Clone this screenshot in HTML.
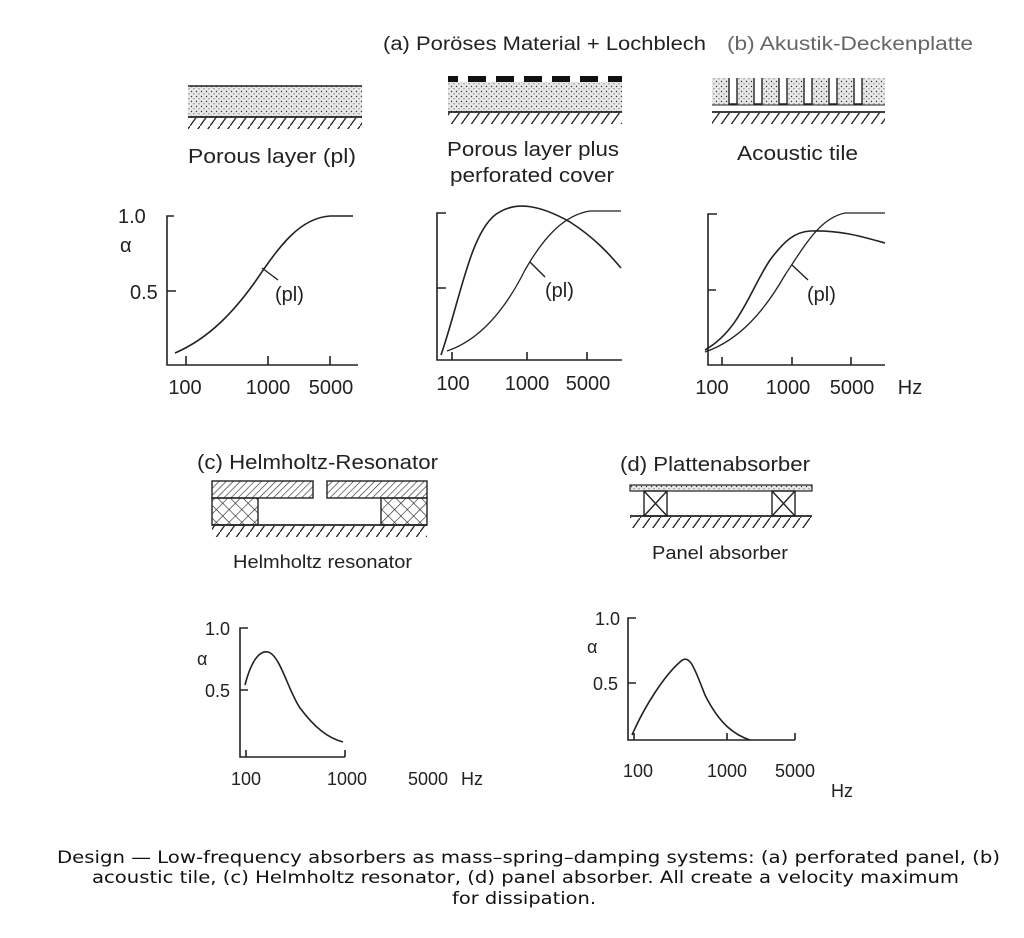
<!DOCTYPE html>
<html><head><meta charset="utf-8"><style>
html,body{margin:0;padding:0;background:#fff;}
svg{display:block}
.t{font-family:"Liberation Sans",sans-serif;fill:#222}
.c{font-family:"DejaVu Sans",sans-serif;fill:#111;font-size:17px}
</style></head><body>
<svg width="1024" height="938" viewBox="0 0 1024 938" xmlns="http://www.w3.org/2000/svg">
<defs>
<pattern id="dots" width="5" height="5" patternUnits="userSpaceOnUse"><rect width="5" height="5" fill="#e8e8e8"/><circle cx="1.5" cy="1.5" r="0.7" fill="#333"/><circle cx="4" cy="3.8" r="0.6" fill="#555"/></pattern>
<pattern id="hatch" width="10" height="14" patternUnits="userSpaceOnUse"><line x1="10" y1="0" x2="0" y2="14" stroke="#222" stroke-width="1.3"/></pattern>
<pattern id="diag" width="5" height="5" patternUnits="userSpaceOnUse" patternTransform="rotate(45)"><line x1="0" y1="0" x2="0" y2="5" stroke="#222" stroke-width="1.2"/></pattern>
<pattern id="cross" width="9" height="9" patternUnits="userSpaceOnUse" patternTransform="rotate(45)"><path d="M0 0H9M0 0V9" stroke="#222" stroke-width="1.2" fill="none"/></pattern>
</defs>
<text class="t" x="383" y="50" font-size="19" textLength="323" lengthAdjust="spacingAndGlyphs">(a) Poröses Material + Lochblech</text>
<text class="t" x="727" y="50" font-size="19" style="fill:#666" textLength="246" lengthAdjust="spacingAndGlyphs">(b) Akustik-Deckenplatte</text>

<!-- diagram 1 -->
<rect x="188" y="86" width="174" height="31" fill="url(#dots)"/>
<line x1="188" y1="86" x2="362" y2="86" stroke="#222" stroke-width="1.5"/>
<line x1="188" y1="117" x2="362" y2="117" stroke="#222" stroke-width="1.8"/>
<rect x="188" y="118" width="174" height="11" fill="url(#hatch)"/>
<text class="t" x="188" y="163" font-size="20" textLength="168" lengthAdjust="spacingAndGlyphs">Porous layer (pl)</text>

<!-- diagram 2 -->
<rect x="448" y="82" width="174" height="30" fill="url(#dots)"/>
<g fill="#111"><rect x="448" y="76" width="10" height="6"/><rect x="468" y="76" width="18" height="6"/><rect x="496" y="76" width="18" height="6"/><rect x="524" y="76" width="18" height="6"/><rect x="552" y="76" width="18" height="6"/><rect x="580" y="76" width="18" height="6"/><rect x="608" y="76" width="14" height="6"/></g>
<line x1="448" y1="112" x2="622" y2="112" stroke="#222" stroke-width="1.8"/>
<rect x="448" y="113" width="174" height="11" fill="url(#hatch)"/>
<text class="t" x="447" y="156" font-size="20" textLength="172" lengthAdjust="spacingAndGlyphs">Porous layer plus</text>
<text class="t" x="450" y="182" font-size="20" textLength="164" lengthAdjust="spacingAndGlyphs">perforated cover</text>

<!-- diagram 3 -->
<rect x="712" y="78" width="173" height="27" fill="url(#dots)"/>
<g fill="#fff" stroke="#222" stroke-width="1.4"><path d="M729 78V104H737V78"/><path d="M754 78V104H762V78"/><path d="M779 78V104H787V78"/><path d="M804 78V104H812V78"/><path d="M829 78V104H837V78"/><path d="M854 78V104H862V78"/></g>
<line x1="712" y1="105" x2="885" y2="105" stroke="#222" stroke-width="1"/>
<line x1="712" y1="112" x2="885" y2="112" stroke="#222" stroke-width="1.8"/>
<rect x="712" y="113" width="173" height="11" fill="url(#hatch)"/>
<text class="t" x="737" y="160" font-size="20" textLength="121" lengthAdjust="spacingAndGlyphs">Acoustic tile</text>

<!-- graph 1 -->
<g stroke="#222" fill="none" stroke-width="1.6">
<path d="M174 216H167V365H358"/>
<path d="M167 291H176M186 365V356M268 365V356M330 365V356"/>
<path d="M175 353C210 338 235 310 255 282C280 245 300 218 330 216H353"/>
<path d="M262 268L278 280" stroke-width="1.4"/>
</g>
<text class="t" x="118" y="223" font-size="20">1.0</text>
<text class="t" x="120" y="252" font-size="20">α</text>
<text class="t" x="130" y="299" font-size="20">0.5</text>
<text class="t" x="275" y="301" font-size="20">(pl)</text>
<g class="t" font-size="20" text-anchor="middle"><text x="185" y="394">100</text><text x="268" y="394">1000</text><text x="331" y="394">5000</text></g>

<!-- graph 2 -->
<g stroke="#222" fill="none" stroke-width="1.6">
<path d="M446 213H437V360H622"/>
<path d="M437 288H446M452 360V352M527 360V352M587 360V352"/>
<path d="M441 355C460 300 470 235 495 215C515 200 540 205 570 222C595 238 610 255 621 268"/>
<path d="M447 351C480 340 505 310 525 270C545 235 565 215 590 211H621" stroke-width="1.3"/>
<path d="M530 262L545 277" stroke-width="1.4"/>
</g>
<text class="t" x="545" y="297" font-size="20">(pl)</text>
<g class="t" font-size="20" text-anchor="middle"><text x="453" y="390">100</text><text x="527" y="390">1000</text><text x="588" y="390">5000</text></g>

<!-- graph 3 -->
<g stroke="#222" fill="none" stroke-width="1.6">
<path d="M717 214H708V365H885"/>
<path d="M708 290H716M722 365V357M792 365V357M851 365V357"/>
<path d="M705 350C740 330 750 290 770 260C785 240 795 232 810 231C840 230 860 236 885 243"/>
<path d="M705 352C740 340 765 310 785 275C805 245 820 218 845 213H885" stroke-width="1.3"/>
<path d="M792 265L808 280" stroke-width="1.4"/>
</g>
<text class="t" x="807" y="301" font-size="20">(pl)</text>
<g class="t" font-size="20" text-anchor="middle"><text x="712" y="394">100</text><text x="788" y="394">1000</text><text x="852" y="394">5000</text><text x="910" y="394">Hz</text></g>

<!-- c -->
<text class="t" x="197" y="469" font-size="20" textLength="241" lengthAdjust="spacingAndGlyphs">(c) Helmholtz-Resonator</text>
<rect x="212" y="481" width="101" height="17" fill="url(#diag)" stroke="#222" stroke-width="1.4"/>
<rect x="327" y="481" width="100" height="17" fill="url(#diag)" stroke="#222" stroke-width="1.4"/>
<rect x="212" y="498" width="46" height="27" fill="url(#cross)" stroke="#222" stroke-width="1.4"/>
<rect x="381" y="498" width="46" height="27" fill="url(#cross)" stroke="#222" stroke-width="1.4"/>
<line x1="212" y1="525" x2="427" y2="525" stroke="#222" stroke-width="1.8"/>
<rect x="212" y="526" width="215" height="11" fill="url(#hatch)"/>
<text class="t" x="233" y="568" font-size="18" textLength="179" lengthAdjust="spacingAndGlyphs">Helmholtz resonator</text>
<g stroke="#222" fill="none" stroke-width="1.6">
<path d="M248 628H240V757H345"/>
<path d="M240 690H248M246 757V750M345 757V750"/>
<path d="M245 685C250 665 258 650 268 652C280 655 288 690 300 708C315 728 328 738 343 742"/>
</g>
<text class="t" x="205" y="635" font-size="18">1.0</text>
<text class="t" x="197" y="665" font-size="18">α</text>
<text class="t" x="205" y="697" font-size="18">0.5</text>
<g class="t" font-size="18" text-anchor="middle"><text x="246" y="785">100</text><text x="347" y="785">1000</text><text x="428" y="785">5000</text><text x="472" y="785">Hz</text></g>

<!-- d -->
<text class="t" x="620" y="471" font-size="20" textLength="190" lengthAdjust="spacingAndGlyphs">(d) Plattenabsorber</text>
<rect x="630" y="485" width="182" height="6" fill="url(#dots)" stroke="#222" stroke-width="1.2"/>
<g fill="none" stroke="#222" stroke-width="1.4"><rect x="644" y="491" width="23" height="25"/><path d="M644 491L667 516M667 491L644 516"/><rect x="772" y="491" width="23" height="25"/><path d="M772 491L795 516M795 491L772 516"/></g>
<line x1="630" y1="516" x2="812" y2="516" stroke="#222" stroke-width="1.8"/>
<rect x="630" y="517" width="182" height="11" fill="url(#hatch)"/>
<text class="t" x="652" y="559" font-size="18" textLength="136" lengthAdjust="spacingAndGlyphs">Panel absorber</text>
<g stroke="#222" fill="none" stroke-width="1.6">
<path d="M636 618H628V740H795"/>
<path d="M628 683H636M634 740V733M727 740V733M795 740V733"/>
<path d="M632 735C645 705 665 675 680 662C690 652 695 670 705 695C720 725 735 735 750 740"/>
</g>
<text class="t" x="595" y="625" font-size="18">1.0</text>
<text class="t" x="587" y="653" font-size="18">α</text>
<text class="t" x="593" y="690" font-size="18">0.5</text>
<g class="t" font-size="18" text-anchor="middle"><text x="638" y="777">100</text><text x="727" y="777">1000</text><text x="795" y="777">5000</text><text x="842" y="797">Hz</text></g>

<!-- caption -->
<g class="c">
<text x="57" y="863" textLength="943" lengthAdjust="spacingAndGlyphs">Design — Low-frequency absorbers as mass–spring–damping systems: (a) perforated panel, (b)</text>
<text x="92" y="883" textLength="867" lengthAdjust="spacingAndGlyphs">acoustic tile, (c) Helmholtz resonator, (d) panel absorber. All create a velocity maximum</text>
<text x="452" y="904" textLength="144" lengthAdjust="spacingAndGlyphs">for dissipation.</text>
</g>
</svg>
</body></html>
